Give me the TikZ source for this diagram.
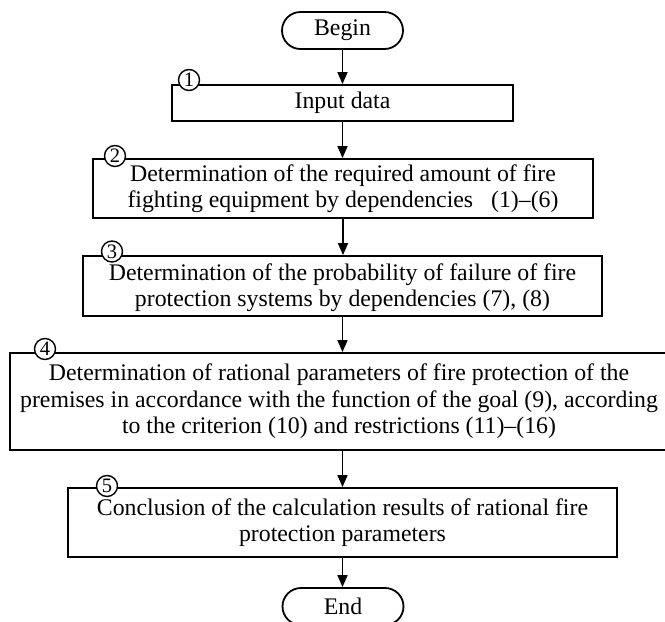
\documentclass[tikz,border=0pt]{standalone}
\usepackage{fontspec}
\setmainfont{Liberation Serif}
\usetikzlibrary{arrows.meta,shapes.misc}
\begin{document}
\begin{tikzpicture}[x=1pt,y=-1pt,
 box/.style={draw,line width=1.8pt,rectangle,inner sep=0pt,align=center,font=\fontsize{23.8}{26.5}\selectfont},
 term/.style={draw,line width=1.8pt,rounded rectangle,inner sep=0pt,minimum width=121pt,minimum height=37pt,font=\fontsize{23.8}{26.5}\selectfont},
 num/.style={draw,fill=white,circle,line width=1.4pt,inner sep=0pt,minimum size=21pt,font=\fontsize{20.5}{20.5}\selectfont},
 arr/.style={line width=1.6pt,-{Triangle[length=12pt,width=10pt]}}]
\useasboundingbox (0,0) rectangle (665,622);
\clip (0,0) rectangle (665,622);
\node[term] (begin) at (342.5,30.5) {Begin};
\node[box,minimum width=341pt,minimum height=36pt] (b1) at (342.5,103) {Input data};
\node[box,minimum width=500pt,minimum height=59pt] (b2) at (343,188.5) {Determination of the required amount of fire\\fighting equipment by dependencies\ \ \ (1)–(6)};
\node[box,minimum width=519pt,minimum height=60pt] (b3) at (342.5,286) {\rule{0pt}{20pt}Determination of the probability of failure of fire\\protection systems by dependencies (7), (8)};
\node[box,minimum width=658pt,minimum height=97pt] (b4) at (339,401.5) {Determination of rational parameters of fire protection of the\\premises in accordance with the function of the goal (9), according\\to the criterion (10) and restrictions (11)–(16)};
\node[box,minimum width=549pt,minimum height=69pt] (b5) at (342.5,522.5) {Conclusion of the calculation results of rational fire\\protection parameters};
\node[term] (end) at (343,606.5) {End};
\node[num] (c1) at (189,80) {1};
\node[num] (c2) at (115,156) {2};
\node[num] (c3) at (112,251.5) {3};
\node[num] (c4) at (45,349) {4};
\node[num] (c5) at (107,486) {5};
\draw[arr] (begin.south) -- (begin.south |- b1.north);
\draw[arr] (b1.south) -- (b1.south |- b2.north);
\draw[arr] (b2.south) -- (b2.south |- b3.north);
\draw[arr] (b3.south) -- (b3.south |- b4.north);
\draw[arr] (b3.south |- b4.south) -- (b3.south |- b5.north);
\draw[arr] (b5.south) -- (b5.south |- end.north);
\end{tikzpicture}
\end{document}
